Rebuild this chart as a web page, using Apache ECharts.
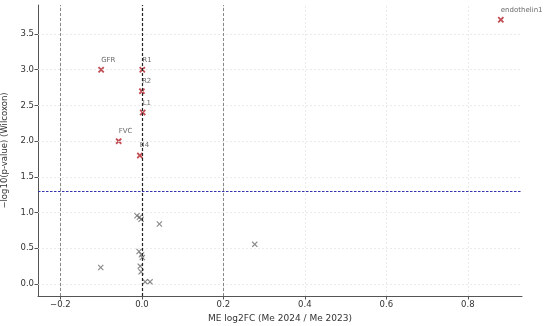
<!DOCTYPE html>
<html>
<head>
<meta charset="utf-8">
<style>html,body{margin:0;padding:0;background:#fff;}#c{width:550px;height:326px;}</style>
<script src="https://cdn.jsdelivr.net/npm/echarts@6/dist/echarts.min.js"></script>
</head>
<body>
<div id="c"></div>
<script>
// Significant genes
var sigNames = ['endothelin1', 'GFR', 'R1', 'R2', 'L1', 'FVC', 'B4'];
var sigX = [0.881, -0.100, 0.001, 0.000, 0.002, -0.057, -0.005];
var sigY = [3.70, 3.00, 3.00, 2.70, 2.40, 2.00, 1.80];
// Non-significant
var nsX = [-0.012, -0.006, -0.002, 0.043, 0.277, -0.007, -0.001, 0.001, -0.101, -0.004, -0.002, 0.008, 0.020];
var nsY = [0.955, 0.935, 0.905, 0.84, 0.555, 0.455, 0.41, 0.37, 0.23, 0.25, 0.17, 0.03, 0.03];
var xTicks = [-0.2, 0.0, 0.2, 0.4, 0.6, 0.8];
var yTicks = [0.0, 0.5, 1.0, 1.5, 2.0, 2.5, 3.0, 3.5];
var fcThresh = [-0.2, 0.2];
var pThresh = 1.301;

var FONT = 'DejaVu Sans';
var crossThin = 'path://M1.3,0L5,3.7L8.7,0L10,1.3L6.3,5L10,8.7L8.7,10L5,6.3L1.3,10L0,8.7L3.7,5L0,1.3Z';
var crossBold = 'path://M2,0L5,3L8,0L10,2L7,5L10,8L8,10L5,7L2,10L0,8L3,5L0,2Z';
function fmt(v){ var s = Math.abs(v).toFixed(1); return (v < 0 ? '\u2212' : '') + s; }

var gridLines = [];
xTicks.forEach(function(v){ gridLines.push({xAxis: v}); });
yTicks.forEach(function(v){ gridLines.push({yAxis: v}); });

var sigData = sigNames.map(function(n, i){ return {name: n, value: [sigX[i], sigY[i]]}; });
var nsData = nsX.map(function(x, i){ return [x, nsY[i]]; });

var chart = echarts.init(document.getElementById('c'), null, {renderer: 'canvas'});
chart.setOption({
  animation: false,
  backgroundColor: '#fff',
  grid: {left: 38, right: 28, top: 5, bottom: 30, containLabel: false, outerBoundsMode: 'none'},
  xAxis: {
    type: 'value', min: -0.255, max: 0.933,
    name: 'ME log2FC (Me 2024 / Me 2023)', nameLocation: 'middle', nameGap: 17,
    nameTextStyle: {fontFamily: FONT, fontSize: 9, color: '#333'},
    axisLine: {show: true, onZero: false, lineStyle: {color: '#555', width: 1}},
    axisTick: {show: true, length: 3.5, customValues: xTicks, lineStyle: {color: '#555'}},
    axisLabel: {customValues: xTicks, formatter: fmt, fontFamily: FONT, fontSize: 8.5, color: '#333', margin: 4},
    splitLine: {show: false}
  },
  yAxis: {
    type: 'value', min: -0.168, max: 3.906,
    name: '\u2212log10(p-value) (Wilcoxon)', nameLocation: 'middle', nameGap: 24,
    nameTextStyle: {fontFamily: FONT, fontSize: 8.5, color: '#333'},
    axisLine: {show: true, onZero: false, lineStyle: {color: '#555', width: 1}},
    axisTick: {show: true, length: 3.5, customValues: yTicks, lineStyle: {color: '#555'}},
    axisLabel: {customValues: yTicks, formatter: fmt, fontFamily: FONT, fontSize: 8.5, color: '#333', margin: 4},
    splitLine: {show: false}
  },
  series: [
    {
      type: 'scatter', data: [], silent: true,
      markLine: {
        silent: true, symbol: 'none', label: {show: false},
        lineStyle: {color: '#e6e6e6', type: [2, 2], width: 0.8},
        data: gridLines
      }
    },
    {
      type: 'scatter', data: [], silent: true,
      markLine: {
        silent: true, symbol: 'none', label: {show: false},
        data: [
          {xAxis: fcThresh[0], lineStyle: {color: '#888', type: [3, 2], width: 1}},
          {xAxis: fcThresh[1], lineStyle: {color: '#888', type: [3, 2], width: 1}},
          {xAxis: 0, lineStyle: {color: '#222', type: [3, 2], width: 1.2}},
          {yAxis: pThresh, lineStyle: {color: '#3434b0', type: [2.5, 1.5], width: 1.2}}
        ]
      }
    },
    {
      type: 'scatter', data: nsData, symbol: crossThin, symbolSize: 6,
      itemStyle: {color: '#6a6a6a'}, z: 3
    },
    {
      type: 'scatter', data: sigData, symbol: crossBold, symbolSize: 6.5,
      itemStyle: {color: '#b4222a'}, z: 4,
      label: {
        show: true, position: 'top', align: 'left', distance: 3,
        formatter: function(p){ return p.name; },
        fontFamily: FONT, fontSize: 7, color: '#444'
      }
    }
  ]
});
</script>
</body>
</html>
